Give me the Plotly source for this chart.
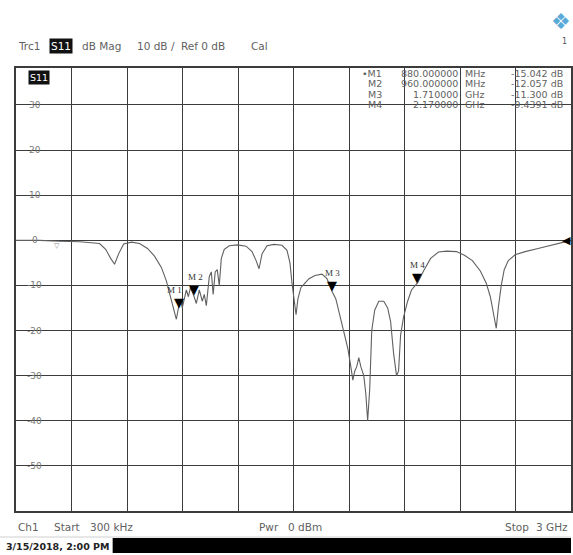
import plotly.graph_objects as go

# ---------------- data ----------------
freq_ghz = [0.0003, 0.129, 0.237, 0.345, 0.452, 0.485, 0.512, 0.533, 0.555, 0.582,
            0.625, 0.668, 0.711, 0.749, 0.786, 0.813, 0.835, 0.856, 0.867, 0.878,
            0.889, 0.899, 0.910, 0.921, 0.932, 0.943, 0.959, 0.975, 0.991, 1.007,
            1.018, 1.029, 1.045, 1.056, 1.066, 1.077, 1.088, 1.099, 1.110, 1.126,
            1.153, 1.196, 1.244, 1.276, 1.298, 1.314, 1.330, 1.357, 1.395, 1.438,
            1.465, 1.481, 1.492, 1.503, 1.514, 1.524, 1.540, 1.562, 1.584, 1.616,
            1.654, 1.681, 1.708, 1.729, 1.751, 1.772, 1.794, 1.810, 1.821, 1.831,
            1.842, 1.853, 1.864, 1.880, 1.891, 1.901, 1.912, 1.923, 1.939, 1.961,
            1.988, 2.009, 2.025, 2.041, 2.057, 2.068, 2.079, 2.095, 2.117, 2.138,
            2.171, 2.203, 2.241, 2.284, 2.327, 2.381, 2.424, 2.467, 2.510, 2.542,
            2.564, 2.580, 2.596, 2.607, 2.623, 2.639, 2.661, 2.698, 2.752, 2.822,
            2.908, 3.000]
s11_db = [0.0, 0.0, -0.2, -0.3, -0.7, -2.0, -4.0, -5.3, -3.0, -0.8,
          -0.4, -0.7, -1.8, -3.5, -6.0, -9.0, -12.5, -16.0, -17.5, -15.0,
          -13.0, -15.0, -13.0, -11.0, -12.5, -10.5, -12.0, -14.0, -11.0, -13.5,
          -12.0, -14.5, -8.0, -7.0, -12.0, -7.0, -6.5, -10.0, -4.0, -2.0,
          -1.2, -1.0, -1.3, -2.5, -4.5, -6.3, -3.0, -1.2, -0.9, -1.1,
          -2.2, -5.0, -9.5, -12.5, -16.5, -13.0, -10.5, -9.5, -8.5, -7.8,
          -7.5, -8.5, -11.3, -13.0, -16.5, -20.0, -24.0, -28.0, -31.0, -29.0,
          -28.0, -26.0, -28.0, -30.0, -34.0, -40.0, -33.0, -20.0, -15.5, -13.5,
          -13.5, -15.0, -18.0, -25.0, -30.0, -29.0, -21.0, -17.0, -13.5, -11.0,
          -9.4, -6.8, -4.0, -2.6, -2.4, -2.5, -3.3, -4.5, -6.8, -9.5,
          -12.5, -16.0, -19.5, -15.0, -10.0, -6.5, -4.5, -3.2, -2.5, -1.8,
          -1.0, 0.0]

marker_names = ["M1", "M2", "M3", "M4"]
marker_freq_ghz = [0.88, 0.96, 1.71, 2.17]
marker_db = [-15.042, -12.057, -11.300, -9.4391]
marker_freq_value = ["880.000000", "960.000000", "1.710000", "2.170000"]
marker_freq_unit = ["MHz", "MHz", "GHz", "GHz"]
marker_db_text = ["-15.042 dB", "-12.057 dB", "-11.300 dB", "-9.4391 dB"]

y_tick_values = [30, 20, 10, 0, -10, -20, -30, -40, -50]

# ---------------- figure ----------------
W, H = 573, 555
L, R, T, B = 16, 0, 68, 44
PW, PH = W - L - R, H - T - B
FONT = "DejaVu Sans, Verdana, sans-serif"
GRAY = "#5f5f5f"


def px(x):
    return (x - L) / PW


def py(y):
    return (H - B - y) / PH


fig = go.Figure()
fig.add_trace(go.Scatter(x=freq_ghz, y=s11_db, mode="lines",
                         line=dict(color="#606060", width=1.1),
                         hoverinfo="skip", showlegend=False))

ann = []
# marker triangles and labels
label_shift = {"M1": -4, "M2": 2, "M3": 0, "M4": 0}
for n, f, v in zip(marker_names, marker_freq_ghz, marker_db):
    ann.append(dict(x=f, y=v, xref="x", yref="y", text="▼", showarrow=False,
                    yanchor="bottom", yshift=-4,
                    font=dict(size=13, color="#000", family="DejaVu Sans")))
    ann.append(dict(x=f, y=v, xref="x", yref="y", text=n.replace("M", "M "), showarrow=False,
                    yanchor="bottom", yshift=11, xshift=label_shift[n],
                    font=dict(size=9, color="#333", family="Liberation Serif, serif")))

# y tick labels inside plot
for t in y_tick_values:
    ann.append(dict(x=px(35), y=t, xref="paper", yref="y",
                    text=str(t), showarrow=False, xanchor="center", yanchor="middle",
                    font=dict(size=9, color="#7a7a7a", family=FONT)))


def ptxt(x, y, text, size=10.5, color=GRAY, xanchor="left", **kw):
    ann.append(dict(x=px(x), y=py(y), xref="paper", yref="paper", text=text,
                    showarrow=False, xanchor=xanchor, yanchor="middle",
                    font=dict(size=size, color=color, family=FONT), **kw))


# header
ptxt(16, 46, "Trc1")
ptxt(49, 46, "S11", color="#fff", bgcolor="#111", borderpad=1)
ptxt(80, 46, "dB Mag")
ptxt(135, 46, "10 dB /")
ptxt(180, 46, "Ref 0 dB")
ptxt(250, 46, "Cal")
# logo
ptxt(563, 22, "❖", size=22, color="#5aaad8", xanchor="center")
ptxt(566, 42, "1", size=8, color="#555", xanchor="center")

# S11 tag inside plot
ptxt(28, 77, "S11", size=9.5, color="#fff", bgcolor="#111", borderpad=1)

# marker table
rows_y = [73, 83, 94, 104]
for i, n in enumerate(marker_names):
    prefix = "•" if i == 0 else ""
    ptxt(385, rows_y[i], prefix + n, size=9.5, xanchor="right")
    ptxt(462, rows_y[i], marker_freq_value[i], size=9.5, xanchor="right")
    ptxt(465, rows_y[i], marker_freq_unit[i], size=9.5)
    ptxt(567, rows_y[i], marker_db_text[i], size=9.5, xanchor="right")

# reference level indicators
ann.append(dict(x=1, y=0, xref="paper", yref="y", text="◀", showarrow=False,
                xanchor="right", yanchor="middle", xshift=2,
                font=dict(size=11, color="#000", family="DejaVu Sans")))
ptxt(57, 246, "▽", size=7, color="#888", xanchor="center")

# footer
ptxt(16, 527, "Ch1")
ptxt(52, 527, "Start")
ptxt(88, 527, "300 kHz")
ptxt(258, 527, "Pwr")
ptxt(287, 527, "0 dBm")
ptxt(505, 527, "Stop")
ptxt(572, 527, "3 GHz", xanchor="right")
ptxt(4, 546, "<b>3/15/2018, 2:00 PM</b>", size=9.5, color="#222")

shapes = [
    dict(type="line", xref="paper", yref="paper", x0=px(0), x1=px(W),
         y0=py(537), y1=py(537), line=dict(color="#cfcfcf", width=1)),
    dict(type="rect", xref="paper", yref="paper", x0=px(113), x1=px(W),
         y0=py(553), y1=py(538), fillcolor="#000", line=dict(width=0)),
]

fig.update_layout(
    width=W, height=H,
    margin=dict(l=L, r=R, t=T, b=B, pad=0),
    paper_bgcolor="white", plot_bgcolor="white",
    showlegend=False,
    annotations=ann,
    shapes=shapes,
    xaxis=dict(range=[0.0003, 3.0], tickmode="linear", tick0=0.0003, dtick=(3.0 - 0.0003) / 10,
               showticklabels=False, ticks="", showgrid=True, gridcolor="#3c3c3c", gridwidth=1.2,
               zeroline=False, showline=True, linecolor="#3c3c3c", linewidth=1.5, mirror=True,
               fixedrange=True),
    yaxis=dict(range=[-60, 38.2], tickmode="linear", tick0=0, dtick=10,
               showticklabels=False, ticks="", showgrid=True, gridcolor="#3c3c3c", gridwidth=1.2,
               zeroline=False, showline=True, linecolor="#3c3c3c", linewidth=1.5, mirror=True,
               fixedrange=True),
)

fig.write_html("out.html", config={"displayModeBar": False},
               post_script="document.body.style.margin='0px';document.body.style.overflow='hidden';")
